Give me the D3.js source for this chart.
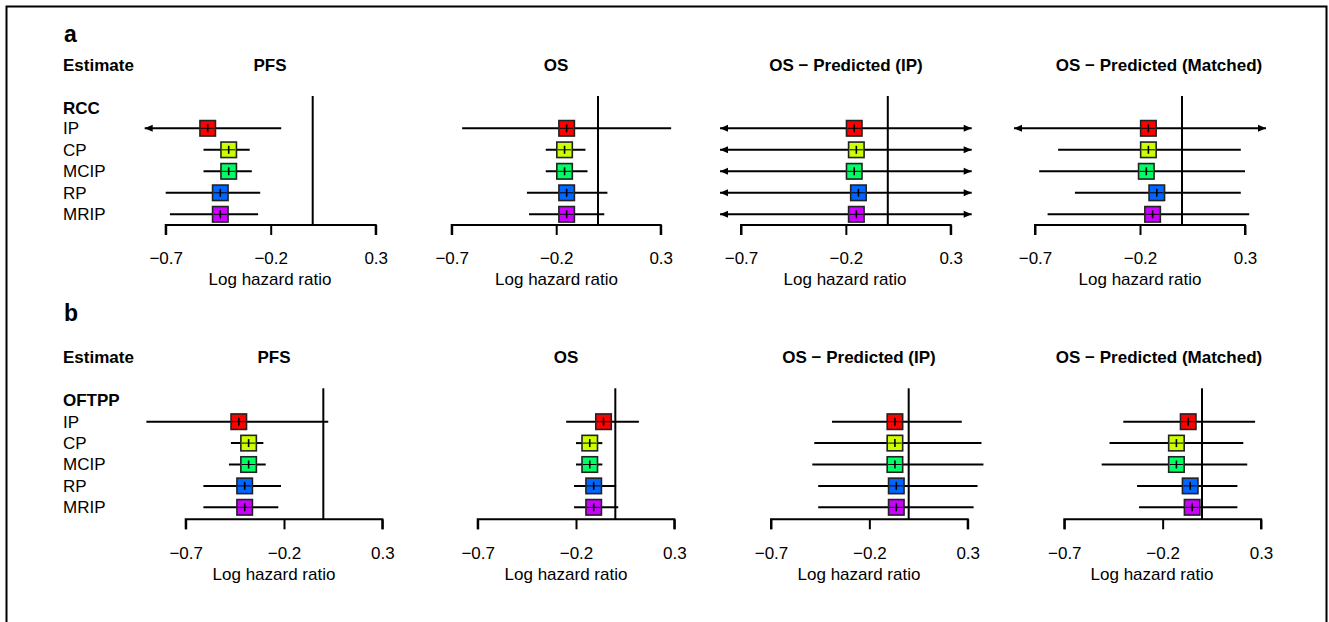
<!DOCTYPE html>
<html>
<head>
<meta charset="utf-8">
<script src="https://cdn.jsdelivr.net/npm/d3@7"></script>
<style>
  html, body { margin: 0; padding: 0; background: #fff; }
  svg { display: block; font-family: "Liberation Sans", Arial, Helvetica, sans-serif; }
</style>
</head>
<body>
<svg id="chart" width="1329" height="622"></svg>
<script>
// ---------------- DATA ----------------
const estimates = ["IP", "CP", "MCIP", "RP", "MRIP"];
const estimateColors = ["#FF0000", "#CCFF00", "#00FF66", "#0066FF", "#CC00FF"];
const outcomes = ["PFS", "OS", "OS \u2212 Predicted (IP)", "OS \u2212 Predicted (Matched)"];
const tickValues = [-0.7, -0.2, 0.3];
const tickLabels = ["\u22120.7", "\u22120.2", "0.3"];
const panelLetters = ["a", "b"];
const groupNames = ["RCC", "OFTPP"];

// Panel a: RCC
const rccPFS_est = [-0.50, -0.40, -0.40, -0.44, -0.44];
const rccPFS_lo  = [-0.90, -0.52, -0.52, -0.70, -0.68];
const rccPFS_hi  = [-0.15, -0.30, -0.29, -0.25, -0.26];

const rccOS_est = [-0.15, -0.16, -0.16, -0.15, -0.15];
const rccOS_lo  = [-0.65, -0.25, -0.25, -0.34, -0.33];
const rccOS_hi  = [0.35, -0.06, -0.05, 0.045, 0.03];

const rccOSIP_est = [-0.16, -0.15, -0.16, -0.14, -0.15];
const rccOSIP_lo  = [-1.05, -1.02, -1.04, -0.98, -1.00];
const rccOSIP_hi  = [0.73, 0.72, 0.72, 0.70, 0.70];

const rccOSM_est = [-0.16, -0.16, -0.17, -0.12, -0.14];
const rccOSM_lo  = [-0.86, -0.59, -0.68, -0.51, -0.64];
const rccOSM_hi  = [0.54, 0.28, 0.30, 0.28, 0.32];

// Panel b: OFTPP
const oftPFS_est = [-0.43, -0.38, -0.38, -0.40, -0.40];
const oftPFS_lo  = [-0.90, -0.47, -0.48, -0.61, -0.61];
const oftPFS_hi  = [0.025, -0.305, -0.293, -0.215, -0.229];

const oftOS_est = [-0.06, -0.13, -0.13, -0.11, -0.11];
const oftOS_lo  = [-0.25, -0.20, -0.20, -0.21, -0.21];
const oftOS_hi  = [0.12, -0.066, -0.066, 0.004, 0.015];

const oftOSIP_est = [-0.07, -0.07, -0.07, -0.063, -0.063];
const oftOSIP_lo  = [-0.39, -0.48, -0.49, -0.46, -0.46];
const oftOSIP_hi  = [0.27, 0.37, 0.38, 0.35, 0.33];

const oftOSM_est = [-0.07, -0.13, -0.13, -0.06, -0.05];
const oftOSM_lo  = [-0.40, -0.47, -0.51, -0.33, -0.32];
const oftOSM_hi  = [0.27, 0.21, 0.23, 0.18, 0.18];

const panelSeries = [
  [[rccPFS_est, rccPFS_lo, rccPFS_hi], [rccOS_est, rccOS_lo, rccOS_hi],
   [rccOSIP_est, rccOSIP_lo, rccOSIP_hi], [rccOSM_est, rccOSM_lo, rccOSM_hi]],
  [[oftPFS_est, oftPFS_lo, oftPFS_hi], [oftOS_est, oftOS_lo, oftOS_hi],
   [oftOSIP_est, oftOSIP_lo, oftOSIP_hi], [oftOSM_est, oftOSM_lo, oftOSM_hi]]
];
const clipRanges = [[-0.8, 0.4], [-1.0, 0.5]];

// ---------------- LAYOUT ----------------
const layouts = [
  { letterY: 34, headerY: 65, groupY: 107.7, row0: 128.3, rowStep: 21.5, axisY: 225, zeroTop: 96,
    tickLabelY: 258, axisTitleY: 279,
    cols: [[165.7, 375.7], [451.7, 660.7], [741, 950.7], [1035, 1245]],
    titleX: [270, 556, 846, 1159], axisTitleX: [270, 556.5, 845, 1140] },
  { letterY: 313, headerY: 357.3, groupY: 400, row0: 421.7, rowStep: 21.4, axisY: 519.3, zeroTop: 388.3,
    tickLabelY: 553, axisTitleY: 574,
    cols: [[185.7, 382.3], [477.7, 674.3], [771, 967.7], [1064.3, 1261]],
    titleX: [274, 566, 859, 1159], axisTitleX: [274, 566, 859, 1152] }
];
const labelX = 63;
const fontSize = 17;
const boxSize = 15.5;

const svg = d3.select("#chart");
svg.append("rect").attr("width", 1329).attr("height", 622).attr("fill", "#fff");
// frame
svg.append("path").attr("d", "M6.5,640 V6.5 H1326.5 V640")
  .attr("fill", "none").attr("stroke", "#000").attr("stroke-width", 2);

panelLetters.forEach((letter, p) => {
  const L = layouts[p];
  const g = svg.append("g");
  g.append("text").attr("x", labelX + 1).attr("y", L.letterY).attr("dy", "0.35em")
    .attr("font-size", 23).attr("font-weight", "bold").text(letter);
  g.append("text").attr("x", labelX).attr("y", L.headerY).attr("dy", "0.35em")
    .attr("font-size", fontSize).attr("font-weight", "bold").text("Estimate");
  g.append("text").attr("x", labelX).attr("y", L.groupY).attr("dy", "0.35em")
    .attr("font-size", fontSize).attr("font-weight", "bold").text(groupNames[p]);

  const y = d3.scalePoint().domain(estimates)
    .range([L.row0, L.row0 + L.rowStep * (estimates.length - 1)]);

  estimates.forEach(e => {
    g.append("text").attr("x", labelX).attr("y", y(e)).attr("dy", "0.35em")
      .attr("font-size", fontSize).text(e);
  });

  outcomes.forEach((title, c) => {
    const col = L.cols[c];
    const x = d3.scaleLinear().domain([tickValues[0], tickValues[2]]).range(col);
    const [est, lo, hi] = panelSeries[p][c];
    const clip = clipRanges[p];
    const cg = g.append("g");

    cg.append("text").attr("x", L.titleX[c]).attr("y", L.headerY).attr("dy", "0.35em")
      .attr("text-anchor", "middle").attr("font-size", fontSize).attr("font-weight", "bold").text(title);

    // axis
    const axis = d3.axisBottom(x).tickValues(tickValues).tickSize(10)
      .tickFormat((d, i) => tickLabels[i]);
    const ag = cg.append("g").attr("transform", `translate(0,${L.axisY})`).call(axis);
    ag.select(".domain").attr("d", `M${col[0]},10V0H${col[1]}V10`).attr("stroke", "#000").attr("stroke-width", 2).attr("fill", "none");
    ag.selectAll(".tick line").attr("stroke", "#000").attr("stroke-width", 2);
    ag.selectAll(".tick text").attr("font-size", fontSize).attr("fill", "#000")
      .attr("font-family", "\"Liberation Sans\", Arial, sans-serif")
      .attr("y", L.tickLabelY - L.axisY).attr("dy", "0.35em");
    cg.append("text").attr("x", L.axisTitleX[c]).attr("y", L.axisTitleY).attr("dy", "0.35em")
      .attr("text-anchor", "middle").attr("font-size", fontSize).text("Log hazard ratio");

    // zero line
    cg.append("line").attr("x1", x(0)).attr("x2", x(0)).attr("y1", L.zeroTop).attr("y2", L.axisY)
      .attr("stroke", "#000").attr("stroke-width", 2);

    estimates.forEach((e, i) => {
      const yy = y(e);
      const l = Math.max(lo[i], clip[0]);
      const h = Math.min(hi[i], clip[1]);
      cg.append("line").attr("x1", x(l)).attr("x2", x(h)).attr("y1", yy).attr("y2", yy)
        .attr("stroke", "#000").attr("stroke-width", 2);
      if (lo[i] < clip[0]) {
        const ax = x(clip[0]);
        cg.append("path").attr("d", `M${ax},${yy} L${ax + 8},${yy - 3.5} L${ax + 8},${yy + 3.5} Z`).attr("fill", "#000");
      }
      if (hi[i] > clip[1]) {
        const ax = x(clip[1]);
        cg.append("path").attr("d", `M${ax},${yy} L${ax - 8},${yy - 3.5} L${ax - 8},${yy + 3.5} Z`).attr("fill", "#000");
      }
      cg.append("rect").attr("x", x(est[i]) - boxSize / 2).attr("y", yy - boxSize / 2)
        .attr("width", boxSize).attr("height", boxSize)
        .attr("fill", estimateColors[i]).attr("stroke", "#222").attr("stroke-width", 1.6);
      cg.append("line").attr("x1", x(est[i]) - boxSize / 2 + 1).attr("x2", x(est[i]) + boxSize / 2 - 1)
        .attr("y1", yy).attr("y2", yy).attr("stroke", "#000").attr("stroke-width", 1);
      cg.append("line").attr("x1", x(est[i])).attr("x2", x(est[i])).attr("y1", yy - 4).attr("y2", yy + 4)
        .attr("stroke", "#000").attr("stroke-width", 1.6);
    });
  });
});
</script>
</body>
</html>
